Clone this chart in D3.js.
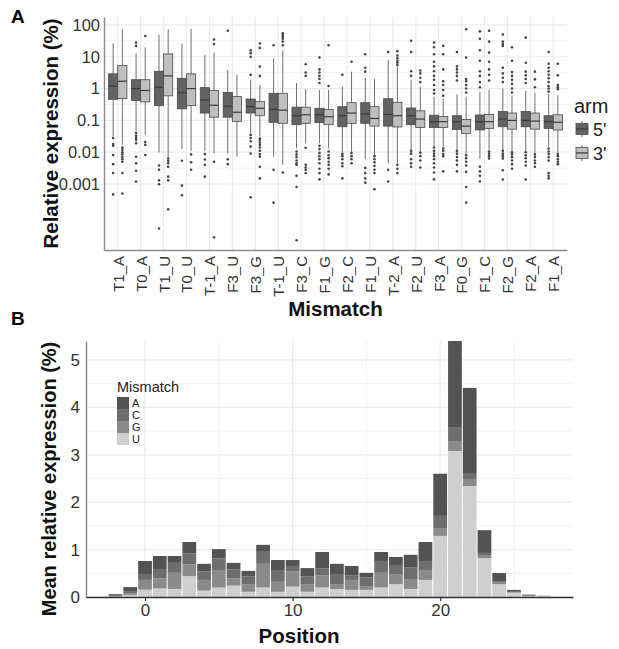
<!DOCTYPE html>
<html>
<head>
<meta charset="utf-8">
<script src="https://cdn.jsdelivr.net/npm/d3@7"></script>
<style>
  body { margin: 0; background: #fff; }
  svg { display: block; font-family: "Liberation Sans", Arial, sans-serif; }
</style>
</head>
<body>
<svg id="chart" width="619" height="649"></svg>
<script>
// ---------- panel A data (relative expression, %) ----------
const categories = ['T1_A', 'T0_A', 'T1_U', 'T0_U', 'T-1_A', 'F3_U', 'F3_G', 'T-1_U', 'F3_C', 'F1_G',
  'F2_C', 'F1_U', 'T-2_A', 'F2_U', 'F3_A', 'F0_G', 'F1_C', 'F2_G', 'F2_A', 'F1_A']
const arms = ["5'", "3'"]
const yTicks = [0.001, 0.01, 0.1, 1, 10, 100]
const yTickLabels = ['0.001', '0.01', '0.1', '1', '10', '100']
const yMinor = [0.00316, 0.0316, 0.316, 3.16, 31.6]

// [lower whisker, q1, median, q3, upper whisker]
const box5 = [
  [0.031, 0.46, 1.2, 2.9, 26], [0.045, 0.42, 1.0, 1.9, 13], [0.0098, 0.29, 1.1, 3.5, 49], [0.0126, 0.23, 0.74, 2.1, 26],
  [0.011, 0.17, 0.44, 1.07, 11.5], [0.009, 0.126, 0.28, 0.76, 3.9], [0.039, 0.17, 0.27, 0.47, 1.9], [0.0072, 0.087, 0.22, 0.71, 8.9],
  [0.013, 0.073, 0.14, 0.26, 1.5], [0.019, 0.085, 0.15, 0.24, 0.9], [0.009, 0.063, 0.14, 0.27, 1.15], [0.006, 0.081, 0.16, 0.36, 2.2],
  [0.0045, 0.066, 0.155, 0.48, 7.9], [0.012, 0.073, 0.14, 0.245, 1.9], [0.0155, 0.06, 0.091, 0.145, 0.56], [0.012, 0.052, 0.09, 0.14, 0.66],
  [0.0062, 0.05, 0.091, 0.148, 0.79], [0.012, 0.063, 0.11, 0.19, 1.0], [0.011, 0.063, 0.1, 0.19, 0.85], [0.015, 0.056, 0.091, 0.14, 0.68]
]
const box3 = [
  [0.017, 0.49, 1.7, 5.3, 73], [0.035, 0.38, 0.87, 1.9, 20], [0.007, 0.59, 2.5, 12.3, 73], [0.011, 0.29, 1.0, 2.9, 75],
  [0.0092, 0.126, 0.3, 0.87, 13.5], [0.0072, 0.093, 0.18, 0.56, 2.7], [0.031, 0.14, 0.24, 0.39, 1.3], [0.004, 0.081, 0.21, 0.71, 16],
  [0.019, 0.081, 0.15, 0.26, 0.95], [0.013, 0.073, 0.13, 0.22, 0.9], [0.0105, 0.081, 0.17, 0.36, 3.4], [0.0081, 0.066, 0.115, 0.27, 2.0],
  [0.0045, 0.062, 0.14, 0.37, 4.9], [0.0105, 0.06, 0.11, 0.2, 1.15], [0.015, 0.06, 0.091, 0.132, 0.49], [0.0087, 0.039, 0.066, 0.107, 0.56],
  [0.012, 0.056, 0.091, 0.155, 0.91], [0.011, 0.053, 0.1, 0.17, 0.6], [0.009, 0.053, 0.095, 0.17, 0.75], [0.0095, 0.05, 0.087, 0.15, 0.62]
]
const out5 = [
  [0.028, 0.018, 0.016, 0.0081, 0.0042, 0.0022, 0.00047],
  [28, 22, 0.04, 0.033, 0.028, 0.024, 0.019, 0.0072, 0.0045, 0.0026, 0.0012],
  [0.0038, 0.0028, 0.0013, 0.00098, 0.00004],
  [0.0054, 0.00089, 0.00044],
  [0.0087, 0.0059, 0.004, 0.0017],
  [66, 0.006, 0.0042],
  [16, 13, 10, 2.7, 0.035, 0.028, 0.022, 0.015, 0.0091, 0.00038],
  [23, 0.0028, 0.00026],
  [0.0105, 0.0085, 0.007, 0.0055, 0.0045, 0.004, 0.0018, 0.0008, 0.000017],
  [9.5, 4, 3.2, 2.5, 2.0, 1.5, 0.016, 0.0125, 0.0095, 0.0075, 0.006, 0.0045, 0.003, 0.0022, 0.0014],
  [2.7, 0.0087, 0.0075, 0.006, 0.0045, 0.0036, 0.0015],
  [12, 4.5, 3.4, 0.0032, 0.0022, 0.0015, 0.0011],
  [14, 0.0028, 0.0012],
  [32, 14, 3.5, 2.5, 0.011, 0.009, 0.006, 0.0045, 0.0035],
  [28, 20, 12, 7, 5, 3.5, 2.5, 1.9, 1.3, 0.9, 0.7, 0.014, 0.011, 0.009, 0.0075, 0.006, 0.0045, 0.0033, 0.0023, 0.0014],
  [14, 5, 4, 3.2, 2.5, 1.8, 0.011, 0.009, 0.007, 0.0055, 0.004, 0.0025],
  [63, 37, 16, 7.5, 3.5, 2.5, 1.6, 1.1, 0.0035, 0.0025, 0.0018, 0.0012],
  [50, 30, 25, 22, 4.5, 3, 2.2, 1.6, 0.011, 0.009, 0.0075, 0.0063, 0.0027, 0.00138],
  [40, 6.5, 3.4, 2.6, 2.0, 1.5, 0.01, 0.008, 0.0065, 0.005, 0.0038, 0.00138],
  [14, 6, 4.5, 3.5, 2.7, 2.1, 1.6, 1.2, 1.0, 0.8, 0.013, 0.0105, 0.0088, 0.007, 0.0055, 0.0022, 0.0018, 0.0015]
]
const out3 = [
  [0.014, 0.012, 0.01, 0.0085, 0.007, 0.006, 0.005, 0.0022, 0.0005],
  [45, 0.021, 0.017, 0.0081],
  [0.0063, 0.0054, 0.0045, 0.0035, 0.0017, 0.0013, 0.00016],
  [0.0085, 0.0048, 0.0028],
  [35, 25, 0.005, 0.000021],
  [],
  [26, 19, 4.9, 2.5, 0.027, 0.024, 0.02, 0.017, 0.014, 0.011, 0.0085, 0.0072, 0.0035, 0.0015],
  [55, 48, 42, 37, 30, 23, 0.0023],
  [5.8, 3.2, 2.5, 0.0138, 0.004, 0.0033, 0.0028, 0.0022],
  [23, 1.2, 0.0105, 0.008, 0.0065, 0.005, 0.004, 0.003, 0.002],
  [7, 0.0095, 0.0075, 0.006, 0.0045],
  [0.0075, 0.006, 0.0048, 0.0037, 0.0028, 0.0022, 0.00068],
  [15, 11, 9, 7.5, 6.5, 5.5, 0.004, 0.003, 0.0022],
  [3.7, 3.0, 2.2, 1.6, 0.0097, 0.0075, 0.0055, 0.0033],
  [22, 12, 4, 1.7, 1.3, 0.9, 0.6, 0.013, 0.011, 0.0087, 0.0075, 0.0025],
  [73, 9.5, 2.0, 1.7, 1.3, 1.0, 0.75, 0.008, 0.0065, 0.005, 0.0038, 0.0024, 0.0008, 0.00026],
  [66, 30, 13.5, 7, 4, 2.7, 1.8, 0.0105, 0.009, 0.0075, 0.0063],
  [20, 7.5, 3.3, 2.5, 1.9, 1.4, 1.0, 0.75, 0.01, 0.0085, 0.007, 0.0055, 0.0042, 0.003],
  [3.4, 1.95, 1.1, 0.0085, 0.007, 0.0055, 0.0045, 0.0035],
  [6, 2.6, 1.3, 1.1, 0.95, 0.0088, 0.0075, 0.006, 0.005, 0.0042]
]

// ---------- panel B data (mean relative expression, %) ----------
const positions = [-2, -1, 0, 1, 2, 3, 4, 5, 6, 7, 8, 9, 10, 11, 12, 13, 14, 15, 16, 17, 18, 19, 20, 21, 22, 23, 24, 25, 26, 27]
const mismatchTypes = ['A', 'C', 'G', 'U']
const valA = [0.03, 0.085, 0.275, 0.275, 0.145, 0.24, 0.165, 0.195, 0.14, 0.12, 0.13, 0.21, 0.125, 0.18, 0.35,
  0.215, 0.195, 0.10, 0.19, 0.17, 0.27, 0.40, 0.89, 1.815, 1.795, 0.48, 0.17, 0.04, 0.02, 0.005]
const valC = [0.015, 0.05, 0.125, 0.2, 0.21, 0.23, 0.175, 0.245, 0.19, 0.17, 0.27, 0.25, 0.12, 0.16, 0.14,
  0.225, 0.1, 0.18, 0.25, 0.205, 0.255, 0.19, 0.255, 0.295, 0.125, 0.045, 0.02, 0.01, 0.005, 0]
const valG = [0.01, 0.035, 0.205, 0.21, 0.34, 0.25, 0.225, 0.37, 0.15, 0.15, 0.5, 0.21, 0.315, 0.16, 0.26,
  0.09, 0.21, 0.08, 0.31, 0.2, 0.195, 0.21, 0.165, 0.21, 0.15, 0.065, 0.045, 0.01, 0.005, 0]
const valU = [0.005, 0.04, 0.155, 0.18, 0.17, 0.44, 0.135, 0.2, 0.24, 0.11, 0.2, 0.11, 0.22, 0.11, 0.2,
  0.17, 0.15, 0.15, 0.2, 0.27, 0.17, 0.36, 1.29, 3.08, 2.34, 0.82, 0.27, 0.09, 0.02, 0.02]
const bTicksX = [0, 10, 20]
const bTicksY = [0, 1, 2, 3, 4, 5]

// ---------- styles ----------
const gridMajor = '#ebebeb'
const gridMinor = '#f3f3f3'
const armFill = { "5'": '#636363', "3'": '#bfbfbf' }
const typeFill = { A: '#535353', C: '#6e6e6e', G: '#8a8a8a', U: '#cfcfcf' }

const svg = d3.select('#chart')

// axis helper: drop d3's default font so the svg font is used
function styleAxis(g, size) {
  g.attr('font-family', null).attr('font-size', null)
  g.selectAll('text').attr('font-size', size).attr('fill', '#333')
}

// ================= PANEL A =================
const pa = { left: 104, right: 567, top: 17, bottom: 250 }
const x = d3.scalePoint().domain(categories).range([pa.left, pa.right]).padding(0.6)
const y = d3.scaleLog().domain([8.4e-6, 178]).range([pa.bottom, pa.top])
const bw = x.step() * 0.8 / 2

const ga = svg.append('g')
ga.selectAll('.minor').data(yMinor).join('line')
  .attr('x1', pa.left).attr('x2', pa.right)
  .attr('y1', d => y(d)).attr('y2', d => y(d))
  .attr('stroke', gridMinor).attr('stroke-width', 1)
ga.selectAll('.hmaj').data(yTicks).join('line')
  .attr('x1', pa.left).attr('x2', pa.right)
  .attr('y1', d => y(d)).attr('y2', d => y(d))
  .attr('stroke', gridMajor).attr('stroke-width', 1.2)
ga.selectAll('.vmaj').data(categories).join('line')
  .attr('x1', d => x(d)).attr('x2', d => x(d))
  .attr('y1', pa.top).attr('y2', pa.bottom)
  .attr('stroke', gridMajor).attr('stroke-width', 1.2)

const boxes = []
categories.forEach((c, i) => {
  boxes.push({ cat: c, arm: arms[0], s: box5[i], out: out5[i], dx: -bw / 2 })
  boxes.push({ cat: c, arm: arms[1], s: box3[i], out: out3[i], dx: bw / 2 })
})

const bx = ga.selectAll('.box').data(boxes).join('g')
  .attr('transform', d => `translate(${x(d.cat) + d.dx},0)`)
bx.append('line').attr('x1', 0).attr('x2', 0)
  .attr('y1', d => y(d.s[4])).attr('y2', d => y(d.s[0]))
  .attr('stroke', '#4a4a4a').attr('stroke-width', 0.8)
bx.append('rect')
  .attr('x', -bw / 2).attr('width', bw)
  .attr('y', d => y(d.s[3])).attr('height', d => y(d.s[1]) - y(d.s[3]))
  .attr('fill', d => armFill[d.arm]).attr('stroke', '#4a4a4a').attr('stroke-width', 0.8)
bx.append('line').attr('x1', -bw / 2).attr('x2', bw / 2)
  .attr('y1', d => y(d.s[2])).attr('y2', d => y(d.s[2]))
  .attr('stroke', '#3a3a3a').attr('stroke-width', 1.2)
bx.selectAll('circle').data(d => d.out).join('circle')
  .attr('cx', 0).attr('cy', d => y(d)).attr('r', 1.3)
  .attr('fill', '#444')

const yAxisA = ga.append('g').attr('transform', `translate(${pa.left},0)`)
  .call(d3.axisLeft(y).tickValues(yTicks).tickFormat((d, i) => yTickLabels[i]).tickSize(0).tickSizeOuter(0).tickPadding(4))
yAxisA.select('.domain').attr('stroke', '#8c8c8c').attr('stroke-width', 1.5)
styleAxis(yAxisA, 16.5)

const xAxisA = ga.append('g').attr('transform', `translate(0,${pa.bottom})`)
  .call(d3.axisBottom(x).tickSize(0).tickSizeOuter(0))
xAxisA.select('.domain').attr('stroke', '#8c8c8c').attr('stroke-width', 1.5)
styleAxis(xAxisA, 15)
xAxisA.selectAll('text')
  .attr('transform', 'rotate(-90)')
  .attr('text-anchor', 'end').attr('x', -6).attr('y', 0).attr('dy', '0.36em')

svg.append('text').attr('transform', `translate(58,${(pa.top + pa.bottom) / 2}) rotate(-90)`)
  .attr('text-anchor', 'middle').attr('font-size', 20.5).attr('font-weight', 'bold').attr('fill', '#111')
  .text('Relative expression (%)')
svg.append('text').attr('x', (pa.left + pa.right) / 2).attr('y', 316)
  .attr('text-anchor', 'middle').attr('font-size', 20.5).attr('font-weight', 'bold').attr('fill', '#111')
  .text('Mismatch')

// legend A
const la = svg.append('g')
la.append('text').attr('x', 574).attr('y', 113).attr('font-size', 20).attr('fill', '#222').text('arm')
arms.forEach((a, i) => {
  const g = la.append('g').attr('transform', `translate(582,${129 + i * 24})`)
  g.append('line').attr('y1', -8).attr('y2', 8).attr('stroke', '#4a4a4a').attr('stroke-width', 0.8)
  g.append('rect').attr('x', -6).attr('y', -5.5).attr('width', 12).attr('height', 11)
    .attr('fill', armFill[a]).attr('stroke', '#4a4a4a').attr('stroke-width', 0.8)
  g.append('line').attr('x1', -6).attr('x2', 6).attr('stroke', '#3a3a3a').attr('stroke-width', 1.2)
  g.append('text').attr('x', 11).attr('y', 6.5).attr('font-size', 18).attr('fill', '#222').text(a)
})

// panel letters
svg.append('text').attr('x', 11).attr('y', 23).attr('font-size', 19).attr('font-weight', 'bold').text('A')
svg.append('text').attr('x', 11).attr('y', 325).attr('font-size', 19).attr('font-weight', 'bold').text('B')

// ================= PANEL B =================
const pb = { left: 86, right: 573, top: 341, bottom: 597 }
const xb = d3.scaleLinear().domain([-4, 29]).range([pb.left, pb.right])
const yb = d3.scaleLinear().domain([0, 5.4]).range([pb.bottom, pb.top])

const gb = svg.append('g')
const xMinorB = [5, 15, 25]
const yMinorB = [0.5, 1.5, 2.5, 3.5, 4.5]
gb.selectAll('.bym').data(yMinorB).join('line')
  .attr('x1', pb.left).attr('x2', pb.right).attr('y1', d => yb(d)).attr('y2', d => yb(d))
  .attr('stroke', gridMinor).attr('stroke-width', 1)
gb.selectAll('.bxm').data(xMinorB).join('line')
  .attr('x1', d => xb(d)).attr('x2', d => xb(d)).attr('y1', pb.top).attr('y2', pb.bottom)
  .attr('stroke', gridMinor).attr('stroke-width', 1)
gb.selectAll('.byM').data(bTicksY).join('line')
  .attr('x1', pb.left).attr('x2', pb.right).attr('y1', d => yb(d)).attr('y2', d => yb(d))
  .attr('stroke', gridMajor).attr('stroke-width', 1.2)
gb.selectAll('.bxM').data(bTicksX).join('line')
  .attr('x1', d => xb(d)).attr('x2', d => xb(d)).attr('y1', pb.top).attr('y2', pb.bottom)
  .attr('stroke', gridMajor).attr('stroke-width', 1.2)

const rows = positions.map((p, i) => ({ pos: p, A: valA[i], C: valC[i], G: valG[i], U: valU[i] }))
const stack = d3.stack().keys(['U', 'G', 'C', 'A'])(rows)
const unit = xb(1) - xb(0)
gb.selectAll('.layer').data(stack).join('g')
  .attr('fill', d => typeFill[d.key])
  .selectAll('rect').data(d => d).join('rect')
  .attr('x', d => xb(d.data.pos) - unit / 2 + 0.5)
  .attr('width', unit - 1)
  .attr('y', d => yb(d[1]))
  .attr('height', d => yb(d[0]) - yb(d[1]))

const yAxisB = gb.append('g').attr('transform', `translate(${pb.left},0)`)
  .call(d3.axisLeft(yb).tickValues(bTicksY).tickFormat(d3.format('d')).tickSize(0).tickSizeOuter(0).tickPadding(6))
yAxisB.select('.domain').attr('stroke', '#8c8c8c').attr('stroke-width', 1.5)
styleAxis(yAxisB, 17)

const xAxisB = gb.append('g').attr('transform', `translate(0,${pb.bottom})`)
  .call(d3.axisBottom(xb).tickValues(bTicksX).tickFormat(d3.format('d')).tickSize(4).tickSizeOuter(0).tickPadding(3))
xAxisB.select('.domain').attr('stroke', '#333').attr('stroke-width', 1.5)
xAxisB.selectAll('.tick line').attr('stroke', '#333').attr('stroke-width', 1.2)
styleAxis(xAxisB, 17)

svg.append('text').attr('transform', `translate(56,${(pb.top + pb.bottom) / 2 + 10}) rotate(-90)`)
  .attr('text-anchor', 'middle').attr('font-size', 20).attr('font-weight', 'bold').attr('fill', '#111')
  .text('Mean relative expression (%)')
svg.append('text').attr('x', 299).attr('y', 643)
  .attr('text-anchor', 'middle').attr('font-size', 20.5).attr('font-weight', 'bold').attr('fill', '#111')
  .text('Position')

// legend B
const lb = svg.append('g').attr('transform', 'translate(117,0)')
lb.append('text').attr('x', 0).attr('y', 392).attr('font-size', 14.5).attr('fill', '#222').text('Mismatch')
mismatchTypes.forEach((t, i) => {
  lb.append('rect').attr('x', 0).attr('y', 397 + i * 12).attr('width', 12).attr('height', 12)
    .attr('fill', typeFill[t])
  lb.append('text').attr('x', 15).attr('y', 407 + i * 12).attr('font-size', 11).attr('fill', '#222').text(t)
})
</script>
</body>
</html>
